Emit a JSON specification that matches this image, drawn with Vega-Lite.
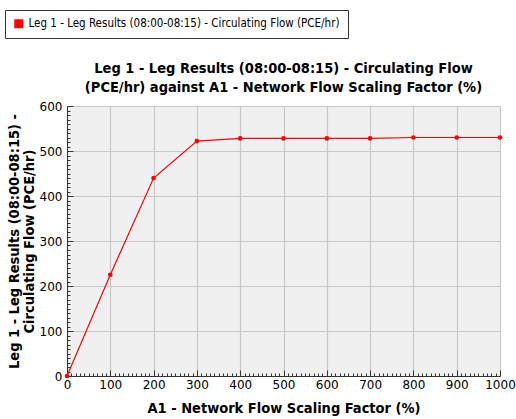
{
  "$schema": "https://vega.github.io/schema/vega-lite/v6.json",
  "width": 433,
  "height": 270,
  "autosize": {"type": "none"},
  "padding": {"left": 67, "top": 106, "right": 16, "bottom": 43},
  "background": "white",
  "config": {
    "font": "DejaVu Sans Condensed",
    "view": {"fill": "#f0f0f0", "stroke": "#c8c8c8"},
    "axis": {
      "labelFont": "DejaVu Sans", "labelFontSize": 12, "labelColor": "black",
      "titleFont": "DejaVu Sans Condensed", "titleFontSize": 14.5, "titleFontWeight": "bold", "titleColor": "black",
      "domainColor": "#333", "tickColor": "#333", "gridColor": "#c8c8c8", "gridWidth": 1.2
    }
  },
  "title": {
    "text": ["Leg 1 - Leg Results (08:00-08:15) - Circulating Flow", "(PCE/hr) against A1  - Network Flow Scaling Factor (%)"],
    "font": "DejaVu Sans Condensed", "fontSize": 14.5, "fontWeight": "bold", "color": "black",
    "anchor": "middle", "offset": -86, "lineHeight": 19
  },
  "data": {"values": [
    {"x": 0, "y": 0, "s": "Leg 1 - Leg Results (08:00-08:15) - Circulating Flow (PCE/hr)"},
    {"x": 100, "y": 225, "s": "Leg 1 - Leg Results (08:00-08:15) - Circulating Flow (PCE/hr)"},
    {"x": 200, "y": 440, "s": "Leg 1 - Leg Results (08:00-08:15) - Circulating Flow (PCE/hr)"},
    {"x": 300, "y": 522, "s": "Leg 1 - Leg Results (08:00-08:15) - Circulating Flow (PCE/hr)"},
    {"x": 400, "y": 528, "s": "Leg 1 - Leg Results (08:00-08:15) - Circulating Flow (PCE/hr)"},
    {"x": 500, "y": 528, "s": "Leg 1 - Leg Results (08:00-08:15) - Circulating Flow (PCE/hr)"},
    {"x": 600, "y": 528, "s": "Leg 1 - Leg Results (08:00-08:15) - Circulating Flow (PCE/hr)"},
    {"x": 700, "y": 528, "s": "Leg 1 - Leg Results (08:00-08:15) - Circulating Flow (PCE/hr)"},
    {"x": 800, "y": 530, "s": "Leg 1 - Leg Results (08:00-08:15) - Circulating Flow (PCE/hr)"},
    {"x": 900, "y": 530, "s": "Leg 1 - Leg Results (08:00-08:15) - Circulating Flow (PCE/hr)"},
    {"x": 1000, "y": 530, "s": "Leg 1 - Leg Results (08:00-08:15) - Circulating Flow (PCE/hr)"}
  ]},
  "resolve": {"axis": {"x": "independent", "y": "independent"}},
  "layer": [
    {
      "mark": {"type": "line", "strokeWidth": 1.2, "color": "#ff0000"},
      "encoding": {
        "x": {"field": "x", "type": "quantitative", "scale": {"domain": [0, 1000], "nice": false},
          "axis": {"orient": "bottom", "title": "A1  - Network Flow Scaling Factor (%)", "format": "d", "values": [0,100,200,300,400,500,600,700,800,900,1000], "labelFlush": false, "tickSize": -6, "labelPadding": 9, "titleY": 25}},
        "y": {"field": "y", "type": "quantitative", "scale": {"domain": [0, 600], "nice": false},
          "axis": {"orient": "left", "title": ["Leg 1 - Leg Results (08:00-08:15) -", "Circulating Flow (PCE/hr)"], "values": [0,100,200,300,400,500,600], "tickSize": -6, "labelPadding": 11, "titleX": -46, "titleY": 135, "titleLineHeight": 15}}
      }
    },
    {
      "mark": {"type": "circle", "size": 22, "opacity": 1},
      "encoding": {
        "x": {"field": "x", "type": "quantitative", "scale": {"domain": [0, 1000], "nice": false},
          "axis": {"orient": "bottom", "title": null, "labels": false, "grid": false, "domain": false, "tickSize": -3,
            "values": [10,20,30,40,50,60,70,80,90,110,120,130,140,150,160,170,180,190,210,220,230,240,250,260,270,280,290,310,320,330,340,350,360,370,380,390,410,420,430,440,450,460,470,480,490,510,520,530,540,550,560,570,580,590,610,620,630,640,650,660,670,680,690,710,720,730,740,750,760,770,780,790,810,820,830,840,850,860,870,880,890,910,920,930,940,950,960,970,980,990]}},
        "y": {"field": "y", "type": "quantitative", "scale": {"domain": [0, 600], "nice": false},
          "axis": {"orient": "left", "title": null, "labels": false, "grid": false, "domain": false, "tickSize": -3,
            "values": [10,20,30,40,50,60,70,80,90,110,120,130,140,150,160,170,180,190,210,220,230,240,250,260,270,280,290,310,320,330,340,350,360,370,380,390,410,420,430,440,450,460,470,480,490,510,520,530,540,550,560,570,580,590]}},
        "color": {"field": "s", "type": "nominal", "scale": {"range": ["#ff0000"]},
          "legend": {"title": null, "orient": "none", "legendX": -62, "legendY": -96, "symbolType": "square", "symbolSize": 80,
            "labelFont": "DejaVu Sans Condensed", "labelFontSize": 11.5, "labelColor": "black", "strokeColor": "#333", "fillColor": "white", "padding": 8, "labelLimit": 500}}
      }
    }
  ]
}
